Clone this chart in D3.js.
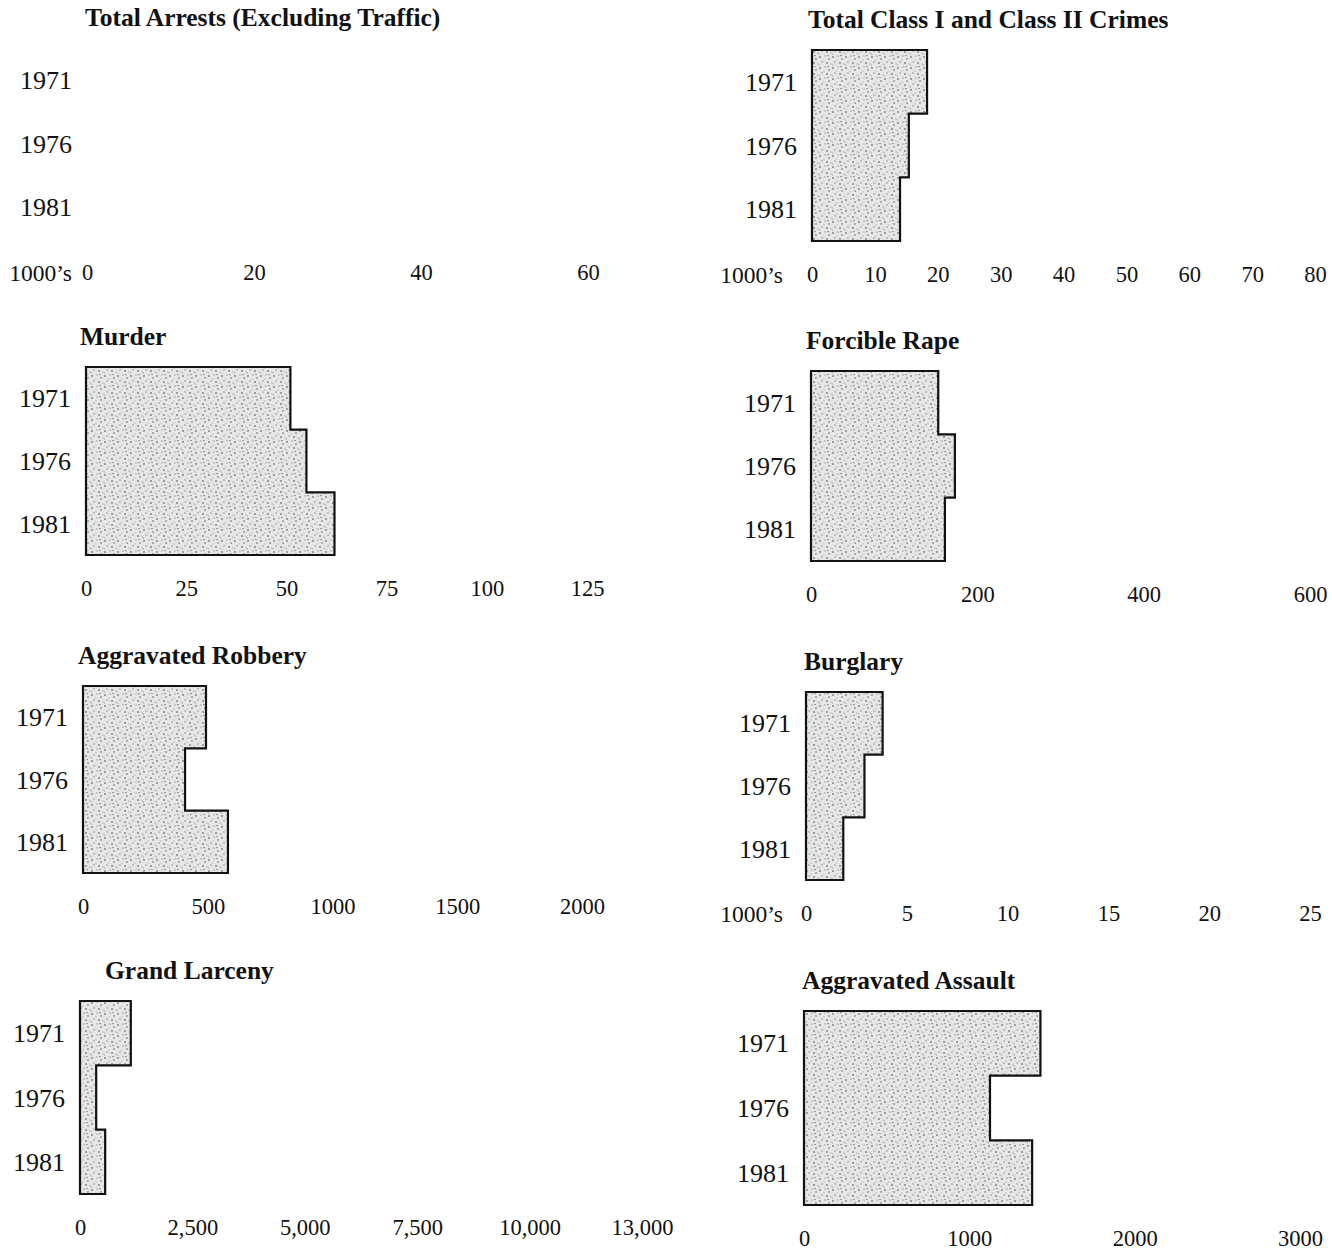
<html>
<head>
    <meta charset="utf-8">
    <style>
        body { margin: 0; background: #ffffff; }
        svg { display: block; }
        .titulo { font-family: "Liberation Serif", serif; font-weight: bold; font-size: 25.5px; fill: #111; }
        .anio { font-family: "Liberation Serif", serif; font-size: 26px; fill: #111; }
        .eje text { font-family: "Liberation Serif", serif; font-size: 22.5px; fill: #111; }
        .unidad { font-family: "Liberation Serif", serif; font-size: 23.5px; fill: #111; }
    </style>
    <script src="https://cdn.jsdelivr.net/npm/d3@7"></script>
</head>
<body>
<svg id="Graficos"></svg>

<script>
    // Datos
    const anios = ["1971", "1976", "1981"];

    const titulos = [
        "Total Arrests (Excluding Traffic)",
        "Total Class I and Class II Crimes",
        "Murder",
        "Forcible Rape",
        "Aggravated Robbery",
        "Burglary",
        "Grand Larceny",
        "Aggravated Assault"
    ];

    const totalArrestos = [];               // sin barras en el original
    const totalCrimenes = [18.3, 15.4, 14.0];
    const asesinatos   = [51, 55, 62];
    const violaciones  = [153, 173, 161];
    const robos        = [493, 409, 581];
    const allanamientos = [3.8, 2.9, 1.85];
    const hurtos       = [1130, 360, 560];
    const agresiones   = [1430, 1125, 1380];

    const ticksArrestos = [0, 20, 40, 60];
    const ticksCrimenes = [0, 10, 20, 30, 40, 50, 60, 70, 80];
    const ticksAsesinatos = [0, 25, 50, 75, 100, 125];
    const ticksViolaciones = [0, 200, 400, 600];
    const ticksRobos = [0, 500, 1000, 1500, 2000];
    const ticksAllanamientos = [0, 5, 10, 15, 20, 25];
    const ticksHurtos = [0, 2500, 5000, 7500, 10000, 12500];
    const etiquetasHurtos = ["0", "2,500", "5,000", "7,500", "10,000", "13,000"];
    const ticksAgresiones = [0, 1000, 2000, 3000];

    const unidad = "1000\u2019s";

    // Geometria de cada panel (pixeles), separada de los datos
    const paneles = [
        { datos: totalArrestos, ticks: ticksArrestos, unidad: true, x0: 87, x1: 588, arriba: 48, abajo: 239, tituloX: 85, unidadX: 15 },
        { datos: totalCrimenes, ticks: ticksCrimenes, unidad: true, x0: 812, x1: 1315, arriba: 50, abajo: 241, tituloX: 808, unidadX: 29 },
        { datos: asesinatos, ticks: ticksAsesinatos, x0: 86, x1: 587, arriba: 367, abajo: 555, tituloX: 80 },
        { datos: violaciones, ticks: ticksViolaciones, x0: 811, x1: 1310, arriba: 371, abajo: 561, tituloX: 806 },
        { datos: robos, ticks: ticksRobos, x0: 83, x1: 582, arriba: 686, abajo: 873, tituloX: 78 },
        { datos: allanamientos, ticks: ticksAllanamientos, unidad: true, x0: 806, x1: 1310, arriba: 692, abajo: 880, tituloX: 804, unidadX: 23 },
        { datos: hurtos, ticks: ticksHurtos, etiquetas: etiquetasHurtos, x0: 80, x1: 642, arriba: 1001, abajo: 1194, tituloX: 105 },
        { datos: agresiones, ticks: ticksAgresiones, x0: 804, x1: 1300, arriba: 1011, abajo: 1205, tituloX: 802 }
    ];

    const ancho = 1332, alto = 1256;
    const contenedor = d3.select("#Graficos").attr("width", ancho).attr("height", alto);

    // Trama punteada tipo fotocopia
    const defs = contenedor.append("defs");
    const trama = defs.append("pattern")
        .attr("id", "punteado")
        .attr("patternUnits", "userSpaceOnUse")
        .attr("width", 13).attr("height", 11);
    trama.append("rect").attr("width", 13).attr("height", 11).attr("fill", "#e6e6e6");
    const puntos = [[1, 2, "#333"], [6, 1, "#999"], [10, 4, "#555"], [3, 7, "#888"],
                    [8, 8, "#333"], [12, 9, "#aaa"], [5, 5, "#bbb"], [0, 10, "#888"], [9, 0.5, "#777"]];
    trama.selectAll("circle").data(puntos).enter().append("circle")
        .attr("cx", d => d[0]).attr("cy", d => d[1]).attr("r", 0.75).attr("fill", d => d[2]);

    function dibujarPanel(panel, i) {
        let escalaX = d3.scaleLinear()
            .domain([0, panel.ticks[panel.ticks.length - 1]])
            .range([panel.x0, panel.x1]);
        let escalaY = d3.scaleBand()
            .domain(anios)
            .range([panel.arriba, panel.abajo])
            .padding(0);

        let g = contenedor.append("g");

        g.append("text")
            .attr("class", "titulo")
            .attr("x", panel.tituloX)
            .attr("y", panel.arriba - 22)
            .text(titulos[i]);

        // Contorno escalonado de las barras
        if (panel.datos.length) {
            let puntosForma = [[escalaX(0), escalaY(anios[0])]];
            panel.datos.forEach((v, j) => {
                puntosForma.push([escalaX(v), escalaY(anios[j])]);
                puntosForma.push([escalaX(v), escalaY(anios[j]) + escalaY.bandwidth()]);
            });
            puntosForma.push([escalaX(0), escalaY(anios[anios.length - 1]) + escalaY.bandwidth()]);

            g.append("path")
                .attr("d", d3.line()(puntosForma) + "Z")
                .attr("fill", "url(#punteado)")
                .attr("stroke", "#111")
                .attr("stroke-width", 2.2)
                .attr("stroke-linejoin", "miter");
        }

        g.selectAll(".anio").data(anios).enter().append("text")
            .attr("class", "anio")
            .attr("x", panel.x0 - 15)
            .attr("y", d => escalaY(d) + escalaY.bandwidth() / 2)
            .attr("dy", "0.35em")
            .attr("text-anchor", "end")
            .text(d => d);

        let eje = d3.axisBottom(escalaX)
            .tickValues(panel.ticks)
            .tickSize(0)
            .tickPadding(25)
            .tickFormat((d, k) => panel.etiquetas ? panel.etiquetas[k] : String(d));

        let gEje = g.append("g")
            .attr("class", "eje")
            .attr("transform", `translate(0,${panel.abajo})`)
            .call(eje);
        gEje.select(".domain").remove();
        gEje.selectAll("text").attr("font-family", null).attr("font-size", null);

        if (panel.unidad) {
            g.append("text")
                .attr("class", "unidad")
                .attr("x", panel.x0 - panel.unidadX)
                .attr("y", panel.abajo + 34)
                .attr("dy", "0.35em")
                .attr("text-anchor", "end")
                .text(unidad);
        }
    }

    paneles.forEach(dibujarPanel);
</script>
</body>
</html>
